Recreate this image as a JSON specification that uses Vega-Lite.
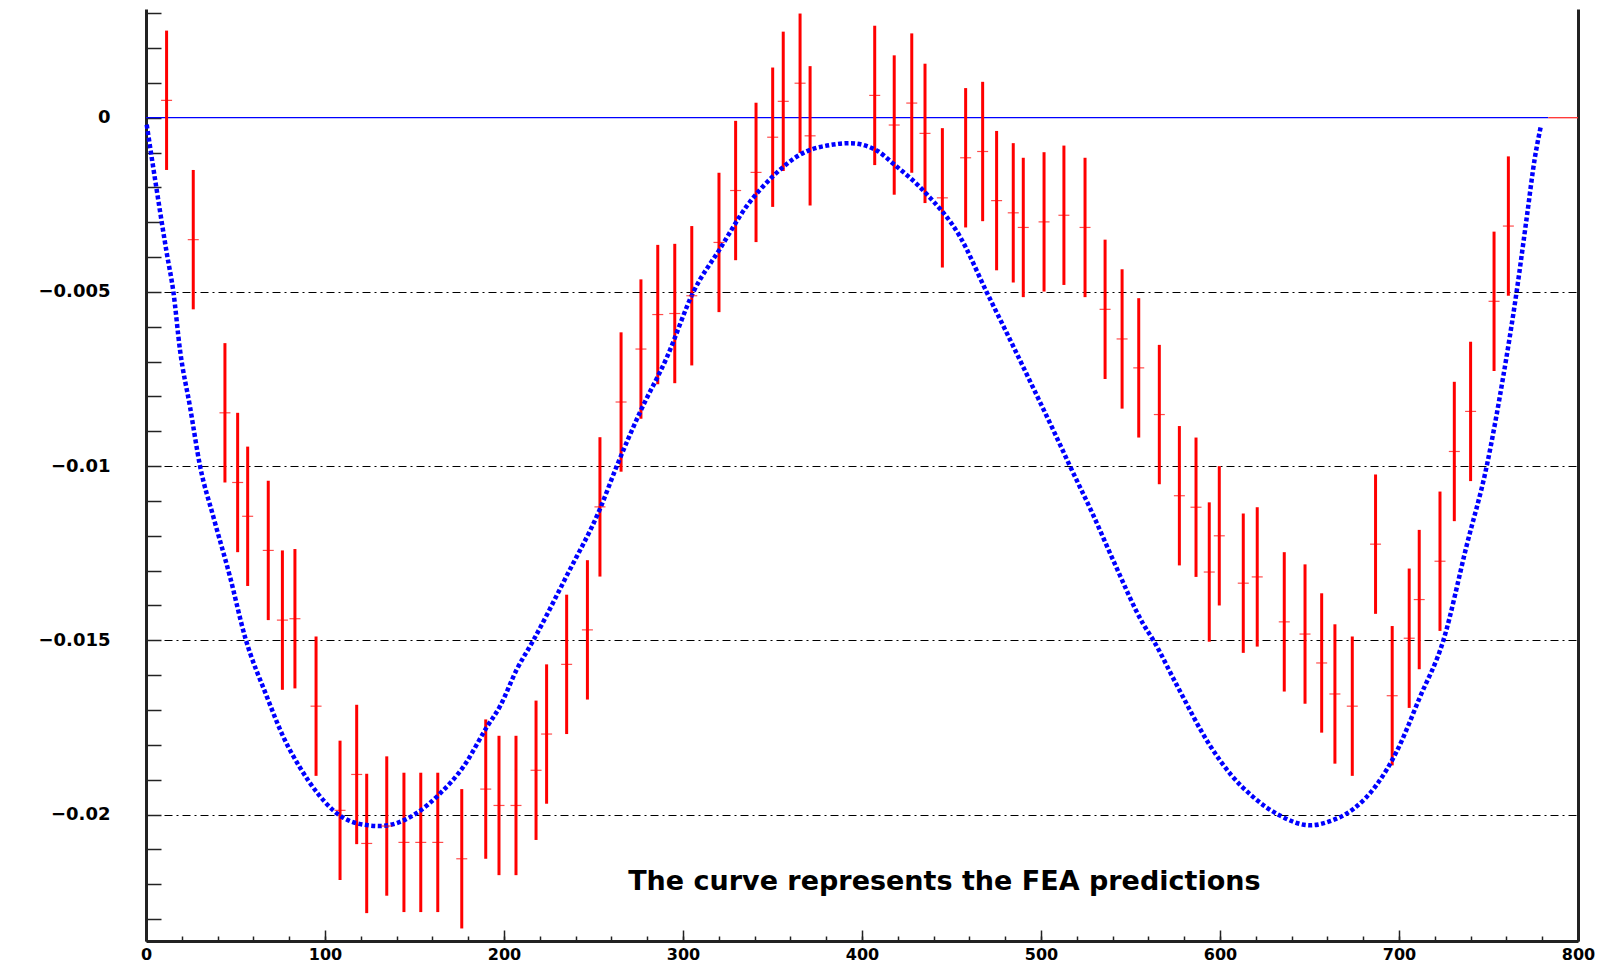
{
  "$schema": "https://vega.github.io/schema/vega-lite/v6.json",
  "width": 1432,
  "height": 932,
  "autosize": {"type": "none"},
  "padding": {"left": 146, "top": 9, "right": 34, "bottom": 21},
  "background": "white",
  "config": {"view": {"stroke": null}},
  "datasets": {
    "zero": [
      {"x0": 0, "x1": 783.4, "seg": "curve"},
      {"x0": 783.4, "x1": 800, "seg": "empty"}
    ],
    "curve": [
      {"x": 0.4, "y": -0.0002},
      {"x": 6, "y": -0.00208},
      {"x": 11.6, "y": -0.00389},
      {"x": 15.3, "y": -0.005},
      {"x": 19, "y": -0.00667},
      {"x": 24.6, "y": -0.0083},
      {"x": 30.2, "y": -0.01},
      {"x": 37.6, "y": -0.01145},
      {"x": 46.9, "y": -0.01317},
      {"x": 55.3, "y": -0.0149},
      {"x": 67.4, "y": -0.0166},
      {"x": 76.7, "y": -0.01777},
      {"x": 86, "y": -0.01865},
      {"x": 96, "y": -0.0194},
      {"x": 104.6, "y": -0.01988},
      {"x": 117.7, "y": -0.02025},
      {"x": 130.7, "y": -0.02033},
      {"x": 150, "y": -0.02},
      {"x": 164.2, "y": -0.0194},
      {"x": 177.3, "y": -0.01863},
      {"x": 190.3, "y": -0.0175},
      {"x": 197.8, "y": -0.01689},
      {"x": 207.1, "y": -0.01584},
      {"x": 216.4, "y": -0.015},
      {"x": 235, "y": -0.01315},
      {"x": 253.6, "y": -0.01123},
      {"x": 263, "y": -0.01},
      {"x": 276, "y": -0.00845},
      {"x": 290.9, "y": -0.00689},
      {"x": 305.8, "y": -0.005},
      {"x": 320.7, "y": -0.00376},
      {"x": 335.6, "y": -0.00254},
      {"x": 350.5, "y": -0.00167},
      {"x": 365.4, "y": -0.00106},
      {"x": 384, "y": -0.00077},
      {"x": 393.3, "y": -0.00073},
      {"x": 408.2, "y": -0.00094},
      {"x": 417.5, "y": -0.00132},
      {"x": 436.1, "y": -0.00219},
      {"x": 454.7, "y": -0.00341},
      {"x": 469.6, "y": -0.005},
      {"x": 482.7, "y": -0.00637},
      {"x": 495.7, "y": -0.00776},
      {"x": 506.9, "y": -0.00897},
      {"x": 516.2, "y": -0.01},
      {"x": 529.2, "y": -0.01141},
      {"x": 540.4, "y": -0.01271},
      {"x": 557.2, "y": -0.01454},
      {"x": 562.8, "y": -0.015},
      {"x": 575.8, "y": -0.01628},
      {"x": 594.4, "y": -0.01802},
      {"x": 606, "y": -0.01885},
      {"x": 618.6, "y": -0.0195},
      {"x": 633.5, "y": -0.02003},
      {"x": 650.3, "y": -0.02031},
      {"x": 661.5, "y": -0.02019},
      {"x": 674.5, "y": -0.01984},
      {"x": 687.5, "y": -0.01915},
      {"x": 698.7, "y": -0.01819},
      {"x": 711.7, "y": -0.01663},
      {"x": 724.8, "y": -0.015},
      {"x": 737.8, "y": -0.01228},
      {"x": 749, "y": -0.01},
      {"x": 758.3, "y": -0.00741},
      {"x": 765.7, "y": -0.005},
      {"x": 771.3, "y": -0.00289},
      {"x": 775.9, "y": -0.00115},
      {"x": 779.1, "y": -0.00028}
    ],
    "pts": [
      {"x": 11.5, "y": 0.0005, "lo": -0.0015, "hi": 0.0025},
      {"x": 26.4, "y": -0.0035, "lo": -0.0055, "hi": -0.0015},
      {"x": 44.1, "y": -0.00847, "lo": -0.01047, "hi": -0.00647},
      {"x": 51.2, "y": -0.01047, "lo": -0.01247, "hi": -0.00847},
      {"x": 56.8, "y": -0.01144, "lo": -0.01344, "hi": -0.00944},
      {"x": 68.3, "y": -0.01242, "lo": -0.01442, "hi": -0.01042},
      {"x": 76.2, "y": -0.01442, "lo": -0.01642, "hi": -0.01242},
      {"x": 83.2, "y": -0.01438, "lo": -0.01638, "hi": -0.01238},
      {"x": 95.0, "y": -0.01689, "lo": -0.01889, "hi": -0.01489},
      {"x": 108.4, "y": -0.01988, "lo": -0.02188, "hi": -0.01788},
      {"x": 117.7, "y": -0.01885, "lo": -0.02085, "hi": -0.01685},
      {"x": 123.3, "y": -0.02083, "lo": -0.02283, "hi": -0.01883},
      {"x": 134.5, "y": -0.02033, "lo": -0.02233, "hi": -0.01833},
      {"x": 144.1, "y": -0.0208, "lo": -0.0228, "hi": -0.0188},
      {"x": 153.5, "y": -0.0208, "lo": -0.0228, "hi": -0.0188},
      {"x": 163.0, "y": -0.0208, "lo": -0.0228, "hi": -0.0188},
      {"x": 176.4, "y": -0.02127, "lo": -0.02327, "hi": -0.01927},
      {"x": 189.8, "y": -0.01927, "lo": -0.02127, "hi": -0.01727},
      {"x": 197.2, "y": -0.01974, "lo": -0.02174, "hi": -0.01774},
      {"x": 206.7, "y": -0.01974, "lo": -0.02174, "hi": -0.01774},
      {"x": 217.9, "y": -0.01873, "lo": -0.02073, "hi": -0.01673},
      {"x": 223.8, "y": -0.01769, "lo": -0.01969, "hi": -0.01569},
      {"x": 235.0, "y": -0.01569, "lo": -0.01769, "hi": -0.01369},
      {"x": 246.6, "y": -0.0147, "lo": -0.0167, "hi": -0.0127},
      {"x": 253.6, "y": -0.01117, "lo": -0.01317, "hi": -0.00917},
      {"x": 265.4, "y": -0.00816, "lo": -0.01016, "hi": -0.00616},
      {"x": 276.5, "y": -0.00664, "lo": -0.00864, "hi": -0.00464},
      {"x": 285.9, "y": -0.00565, "lo": -0.00765, "hi": -0.00365},
      {"x": 295.4, "y": -0.00562, "lo": -0.00762, "hi": -0.00362},
      {"x": 304.9, "y": -0.00511, "lo": -0.00711, "hi": -0.00311},
      {"x": 320.1, "y": -0.00358, "lo": -0.00558, "hi": -0.00158},
      {"x": 329.4, "y": -0.00209, "lo": -0.00409, "hi": -0.00009},
      {"x": 340.8, "y": -0.00157, "lo": -0.00357, "hi": 0.00043},
      {"x": 350.1, "y": -0.00056, "lo": -0.00256, "hi": 0.00144},
      {"x": 356.0, "y": 0.00047, "lo": -0.00153, "hi": 0.00247},
      {"x": 365.4, "y": 0.00099, "lo": -0.00101, "hi": 0.00299},
      {"x": 371.0, "y": -0.00052, "lo": -0.00252, "hi": 0.00148},
      {"x": 407.1, "y": 0.00064, "lo": -0.00136, "hi": 0.00264},
      {"x": 418.0, "y": -0.00021, "lo": -0.00221, "hi": 0.00179},
      {"x": 427.8, "y": 0.00042, "lo": -0.00158, "hi": 0.00242},
      {"x": 435.2, "y": -0.00045, "lo": -0.00245, "hi": 0.00155},
      {"x": 444.9, "y": -0.0023, "lo": -0.0043, "hi": -0.0003},
      {"x": 457.9, "y": -0.00115, "lo": -0.00315, "hi": 0.00085},
      {"x": 467.4, "y": -0.00097, "lo": -0.00297, "hi": 0.00103},
      {"x": 475.2, "y": -0.00238, "lo": -0.00438, "hi": -0.00038},
      {"x": 484.5, "y": -0.00273, "lo": -0.00473, "hi": -0.00073},
      {"x": 490.1, "y": -0.00315, "lo": -0.00515, "hi": -0.00115},
      {"x": 501.7, "y": -0.00299, "lo": -0.00499, "hi": -0.00099},
      {"x": 512.8, "y": -0.0028, "lo": -0.0048, "hi": -0.0008},
      {"x": 524.6, "y": -0.00315, "lo": -0.00515, "hi": -0.00115},
      {"x": 535.8, "y": -0.0055, "lo": -0.0075, "hi": -0.0035},
      {"x": 545.3, "y": -0.00635, "lo": -0.00835, "hi": -0.00435},
      {"x": 554.6, "y": -0.00718, "lo": -0.00918, "hi": -0.00518},
      {"x": 566.1, "y": -0.00852, "lo": -0.01052, "hi": -0.00652},
      {"x": 577.3, "y": -0.01085, "lo": -0.01285, "hi": -0.00885},
      {"x": 586.6, "y": -0.01118, "lo": -0.01318, "hi": -0.00918},
      {"x": 594.0, "y": -0.01304, "lo": -0.01504, "hi": -0.01104},
      {"x": 599.6, "y": -0.012, "lo": -0.014, "hi": -0.01},
      {"x": 613.0, "y": -0.01336, "lo": -0.01536, "hi": -0.01136},
      {"x": 620.8, "y": -0.01318, "lo": -0.01518, "hi": -0.01118},
      {"x": 635.9, "y": -0.01447, "lo": -0.01647, "hi": -0.01247},
      {"x": 647.5, "y": -0.01482, "lo": -0.01682, "hi": -0.01282},
      {"x": 656.8, "y": -0.01565, "lo": -0.01765, "hi": -0.01365},
      {"x": 664.2, "y": -0.01654, "lo": -0.01854, "hi": -0.01454},
      {"x": 673.9, "y": -0.01689, "lo": -0.01889, "hi": -0.01489},
      {"x": 686.9, "y": -0.01224, "lo": -0.01424, "hi": -0.01024},
      {"x": 696.2, "y": -0.01659, "lo": -0.01859, "hi": -0.01459},
      {"x": 705.7, "y": -0.01494, "lo": -0.01694, "hi": -0.01294},
      {"x": 711.3, "y": -0.01383, "lo": -0.01583, "hi": -0.01183},
      {"x": 722.9, "y": -0.01273, "lo": -0.01473, "hi": -0.01073},
      {"x": 730.9, "y": -0.00958, "lo": -0.01158, "hi": -0.00758},
      {"x": 740.0, "y": -0.00843, "lo": -0.01043, "hi": -0.00643},
      {"x": 753.1, "y": -0.00527, "lo": -0.00727, "hi": -0.00327},
      {"x": 761.1, "y": -0.00311, "lo": -0.00511, "hi": -0.00111}
    ],
    "note": [
      {"label": "The curve represents the FEA predictions", "x": 446, "y": -0.02193}
    ]
  },
  "resolve": {"axis": {"x": "independent", "y": "independent"}},
  "layer": [
    {
      "data": {"name": "zero"},
      "mark": {"type": "rule", "strokeWidth": 1.3},
      "encoding": {
        "x": {
          "field": "x0", "type": "quantitative",
          "scale": {"domain": [0, 800], "nice": false, "zero": false},
          "axis": {
            "orient": "bottom", "title": null,
            "values": [0, 100, 200, 300, 400, 500, 600, 700, 800],
            "format": "d", "ticks": false, "grid": false,
            "domain": true, "domainColor": "#222", "domainWidth": 3,
            "labelFont": "DejaVu Sans", "labelFontWeight": "bold", "labelFontSize": 16,
            "labelColor": "#000", "labelPadding": 5, "labelFlush": false, "labelOverlap": false
          }
        },
        "x2": {"field": "x1"},
        "y": {
          "datum": 0, "type": "quantitative",
          "scale": {"domain": [-0.02363, 0.00312], "nice": false, "zero": false},
          "axis": {
            "orient": "left", "title": null,
            "values": [0, -0.005, -0.01, -0.015, -0.02],
            "format": "~g", "ticks": false, "grid": false,
            "domain": true, "domainColor": "#222", "domainWidth": 3,
            "labelFont": "DejaVu Sans", "labelFontWeight": "bold", "labelFontSize": 18,
            "labelColor": "#000", "labelPadding": 36, "labelFlush": false, "labelOverlap": false
          }
        },
        "color": {
          "field": "seg", "type": "nominal",
          "scale": {"domain": ["curve", "empty"], "range": ["#0000ff", "#ff3030"]},
          "legend": null
        }
      }
    },
    {
      "data": {"name": "pts"},
      "mark": {"type": "rule", "color": "#ff0000", "strokeWidth": 3},
      "encoding": {
        "x": {
          "field": "x", "type": "quantitative",
          "scale": {"domain": [0, 800], "nice": false, "zero": false},
          "axis": {
            "orient": "bottom", "title": null,
            "values": [0, 20, 40, 60, 80, 100, 120, 140, 160, 180, 200, 220, 240, 260, 280, 300, 320, 340, 360, 380, 400, 420, 440, 460, 480, 500, 520, 540, 560, 580, 600, 620, 640, 660, 680, 700, 720, 740, 760, 780, 800],
            "offset": -5, "tickSize": 5, "tickWidth": 1.5, "tickColor": "#222",
            "labels": false, "domain": false, "grid": false
          }
        },
        "y": {
          "field": "lo", "type": "quantitative",
          "scale": {"domain": [-0.02363, 0.00312], "nice": false, "zero": false},
          "axis": {
            "orient": "left", "title": null,
            "values": [-0.023, -0.022, -0.021, -0.02, -0.019, -0.018, -0.017, -0.016, -0.015, -0.014, -0.013, -0.012, -0.011, -0.01, -0.009, -0.008, -0.007, -0.006, -0.005, -0.004, -0.003, -0.002, -0.001, 0, 0.001, 0.002, 0.003],
            "offset": -15, "tickSize": 15, "tickWidth": 1.5, "tickColor": "#222",
            "labels": false, "domain": false, "grid": false
          }
        },
        "y2": {"field": "hi"}
      }
    },
    {
      "data": {"name": "curve"},
      "mark": {"type": "line", "color": "#0000ff", "strokeWidth": 4.5, "strokeDash": [4, 2.5], "interpolate": "monotone"},
      "encoding": {
        "x": {
          "field": "x", "type": "quantitative",
          "scale": {"domain": [0, 800], "nice": false, "zero": false},
          "axis": {
            "orient": "bottom", "title": null,
            "values": [0, 100, 200, 300, 400, 500, 600, 700, 800],
            "offset": -11, "tickSize": 11, "tickWidth": 1.5, "tickColor": "#222",
            "labels": false, "domain": false, "grid": false
          }
        },
        "y": {
          "field": "y", "type": "quantitative",
          "scale": {"domain": [-0.02363, 0.00312], "nice": false, "zero": false},
          "axis": {
            "orient": "left", "title": null,
            "values": [-0.005, -0.01, -0.015, -0.02],
            "grid": true, "gridColor": "#000", "gridWidth": 1, "gridDash": [8, 4, 2, 4],
            "ticks": false, "labels": false, "domain": false
          }
        }
      }
    },
    {
      "data": {"name": "pts"},
      "mark": {"type": "tick", "orient": "horizontal", "color": "#ff0000", "size": 11, "thickness": 1.2},
      "encoding": {
        "x": {
          "field": "x", "type": "quantitative",
          "scale": {"domain": [0, 800], "nice": false, "zero": false},
          "axis": null
        },
        "y": {
          "field": "y", "type": "quantitative",
          "scale": {"domain": [-0.02363, 0.00312], "nice": false, "zero": false},
          "axis": {
            "orient": "right", "title": null, "values": [],
            "ticks": false, "labels": false, "grid": false,
            "domain": true, "domainColor": "#222", "domainWidth": 3
          }
        }
      }
    },
    {
      "data": {"name": "note"},
      "mark": {"type": "text", "font": "DejaVu Sans", "fontWeight": "bold", "fontSize": 27, "align": "center", "baseline": "middle", "color": "#000"},
      "encoding": {
        "x": {"field": "x", "type": "quantitative", "scale": {"domain": [0, 800], "nice": false, "zero": false}, "axis": null},
        "y": {"field": "y", "type": "quantitative", "scale": {"domain": [-0.02363, 0.00312], "nice": false, "zero": false}, "axis": null},
        "text": {"field": "label"}
      }
    }
  ]
}
